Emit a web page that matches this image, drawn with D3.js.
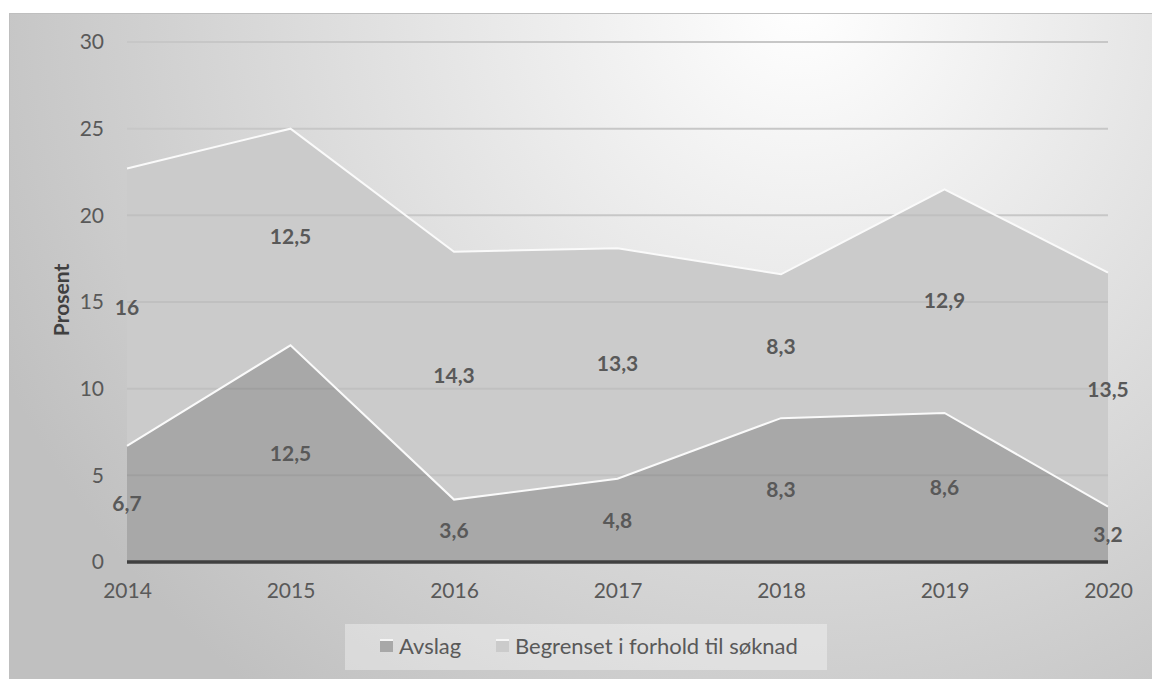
<!DOCTYPE html>
<html lang="no">
<head>
  <meta charset="UTF-8">
  <title>Avslag og begrenset</title>
  <script src="https://d3js.org/d3.v7.min.js"></script>
  <style>
    body { margin: 0; background: #fff; font-family: Lato, "Open Sans", sans-serif; }
  </style>
</head>
<body>
  <div id="chart"></div>
  <script>
    const years = ["2014", "2015", "2016", "2017", "2018", "2019", "2020"];
    const avslag = [6.7, 12.5, 3.6, 4.8, 8.3, 8.6, 3.2];
    const begrenset = [16, 12.5, 14.3, 13.3, 8.3, 12.9, 13.5];
    const seriesNames = ["Avslag", "Begrenset i forhold til søknad"];
    const yTicks = [0, 5, 10, 15, 20, 25, 30];

    const W = 1152, H = 679;
    const margin = {top: 42, right: 44, bottom: 117, left: 127};

    const svg = d3.select("#chart").append("svg")
      .attr("width", W).attr("height", H);

    const defs = svg.append("defs");
    const grad = defs.append("radialGradient").attr("id", "bg")
      .attr("gradientUnits", "userSpaceOnUse")
      .attr("cx", 800).attr("cy", 0).attr("r", 880);
    grad.append("stop").attr("offset", "0%").attr("stop-color", "#ffffff");
    grad.append("stop").attr("offset", "100%").attr("stop-color", "#c0c0c0");

    svg.append("rect")
      .attr("x", 9.5).attr("y", 13.5).attr("width", W).attr("height", H)
      .attr("fill", "url(#bg)").attr("stroke", "#bfbfbf");

    const g = svg.append("g").attr("transform", `translate(${margin.left},${margin.top})`);
    const width = W - margin.left - margin.right;
    const height = 562 - margin.top;

    const x = d3.scalePoint().domain(years).range([0, width]);
    const y = d3.scaleLinear().domain([0, 30]).range([height, 0]);

    const data = years.map((yr, i) => ({year: yr, a: avslag[i], b: begrenset[i]}));
    const keys = ["a", "b"];
    const stack = d3.stack().keys(keys)(data);

    // gridlines under areas
    g.append("g").selectAll("line").data(yTicks.slice(1)).join("line")
      .attr("x1", 0).attr("x2", width)
      .attr("y1", d => y(d)).attr("y2", d => y(d))
      .attr("stroke", "#d2d2d2").attr("stroke-width", 2);

    const area = d3.area()
      .x((d, i) => x(years[i]))
      .y0(d => y(d[0])).y1(d => y(d[1]));
    const topLine = d3.line()
      .x((d, i) => x(years[i])).y(d => y(d[1]));

    const fills = ["#a8a8a8", "#cbcbcb"];
    g.selectAll(".area").data(stack).join("path")
      .attr("class", "area")
      .attr("d", area)
      .attr("fill", (d, i) => fills[i]);

    // gridlines faintly visible through areas
    g.append("g").selectAll("line").data(yTicks.slice(1)).join("line")
      .attr("x1", 0).attr("x2", width)
      .attr("y1", d => y(d)).attr("y2", d => y(d))
      .attr("stroke", "rgba(0,0,0,0.05)").attr("stroke-width", 2);

    g.selectAll(".edge").data(stack).join("path")
      .attr("class", "edge")
      .attr("d", topLine)
      .attr("fill", "none")
      .attr("stroke", "#fafafa").attr("stroke-width", 2);

    // baseline
    g.append("line")
      .attr("x1", 0).attr("x2", width)
      .attr("y1", y(0)).attr("y2", y(0))
      .attr("stroke", "#404040").attr("stroke-width", 3.5);

    // y axis labels
    const yAxis = g.append("g")
      .call(d3.axisLeft(y).tickValues(yTicks).tickSize(0).tickPadding(23));
    yAxis.select(".domain").remove();
    yAxis.selectAll("text").attr("fill", "#595959").style("font-size", "21px")
      .style("font-family", "Lato, sans-serif");

    // x axis labels
    const xAxis = g.append("g").attr("transform", `translate(0,${height})`)
      .call(d3.axisBottom(x).tickSize(0).tickPadding(21));
    xAxis.select(".domain").remove();
    xAxis.selectAll("text").attr("fill", "#595959").style("font-size", "21px")
      .style("font-family", "Lato, sans-serif");

    // data labels
    const fmt = v => String(v).replace(".", ",");
    stack.forEach((s, k) => {
      g.append("g").selectAll("text").data(s).join("text")
        .attr("x", (d, i) => x(years[i]))
        .attr("y", d => y((d[0] + d[1]) / 2))
        .attr("dy", "0.35em")
        .attr("text-anchor", "middle")
        .attr("fill", "#595959")
        .style("font-size", "21px").style("font-weight", "bold")
        .text(d => fmt(d.data[keys[k]]));
    });

    // axis title
    svg.append("text")
      .attr("transform", `translate(62,${300}) rotate(-90)`)
      .attr("dy", "0.35em")
      .attr("text-anchor", "middle")
      .attr("fill", "#404040")
      .style("font-size", "21px").style("font-weight", "bold")
      .text("Prosent");

    // legend
    const leg = svg.append("g");
    leg.append("rect")
      .attr("x", 345).attr("y", 624).attr("width", 482).attr("height", 46)
      .attr("fill", "rgba(255,255,255,0.35)");
    const legX = [380, 496];
    seriesNames.forEach((n, i) => {
      leg.append("rect")
        .attr("x", legX[i]).attr("y", 639).attr("width", 13).attr("height", 13)
        .attr("fill", fills[i]);
      leg.append("rect")
        .attr("x", legX[i]).attr("y", 639).attr("width", 13).attr("height", 2)
        .attr("fill", "#f5f5f5");
      leg.append("text")
        .attr("x", legX[i] + 19).attr("y", 646).attr("dy", "0.35em")
        .attr("fill", "#595959").style("font-size", "22px")
        .text(n);
    });
  </script>
</body>
</html>
